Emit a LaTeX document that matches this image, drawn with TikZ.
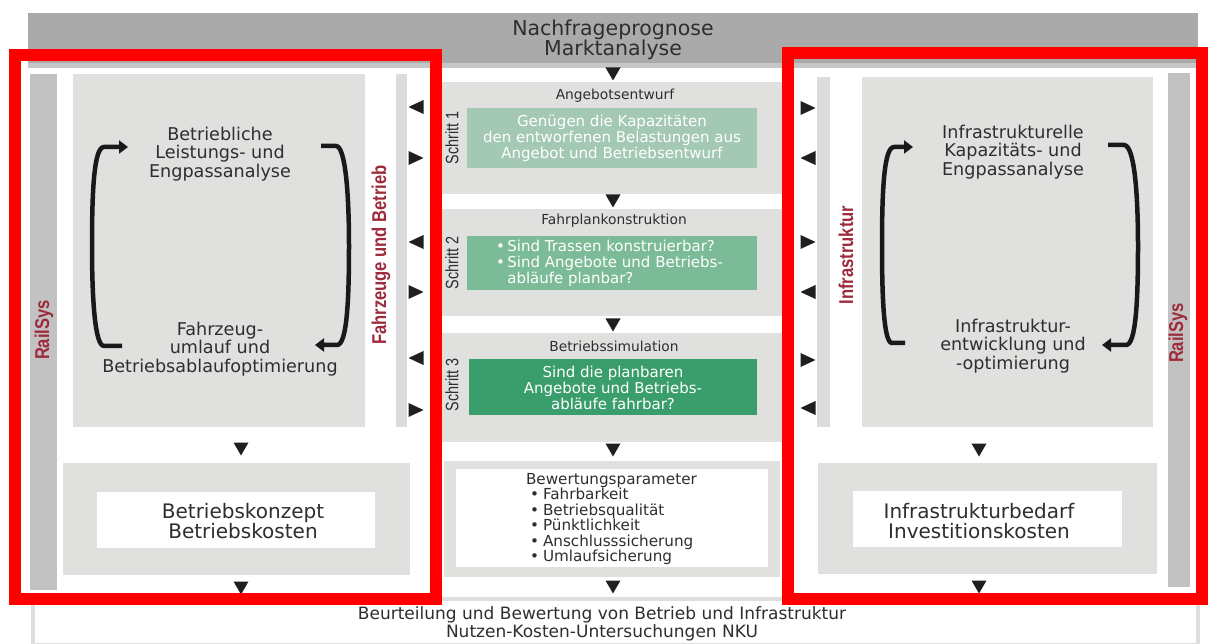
\documentclass[tikz,border=0pt]{standalone}
\usepackage{graphicx}
\usepackage{fontspec}
\setmainfont{DejaVu Sans}
\newfontfamily\narrowfont{Liberation Sans}
\usetikzlibrary{arrows.meta}
\definecolor{topgrey}{HTML}{AAAAAA}
\definecolor{topgreyb}{HTML}{C6C6C6}
\definecolor{boxgrey}{HTML}{E0E0DE}
\definecolor{railgrey}{HTML}{C2C2C2}
\definecolor{stripgrey}{HTML}{DCDCDC}
\definecolor{frgrey}{HTML}{DEDEDE}
\definecolor{gA}{HTML}{A3C8B4}
\definecolor{gB}{HTML}{7CBB97}
\definecolor{gC}{HTML}{3A9E6C}
\definecolor{rtext}{HTML}{9E2B3B}
\definecolor{txt}{HTML}{2E2E2E}
\definecolor{redframe}{HTML}{FF0000}
\newcommand\pbox[6]{\node[blk=#2, anchor=north west, minimum width={(#5-#3)*1pt}, minimum height={(#6-#4)*1pt}] (#1) at (#3,#4) {};}
\tikzset{
  blk/.style={inner sep=0pt, outer sep=0pt, fill=#1, draw=none},
  tx/.style={inner sep=0pt, outer sep=0pt, text=txt, align=center},
  ttl/.style={tx, font=\fontsize{20.5}{20}\selectfont},
  bigt/.style={tx, font=\fontsize{17.6}{18.5}\selectfont},
  kost/.style={tx, font=\fontsize{20}{20.5}\selectfont},
  stept/.style={tx, font=\fontsize{13.8}{14}\selectfont},
  grt/.style={tx, text=white, font=\fontsize{15}{16}\selectfont},
  bewt/.style={tx, align=left, font=\fontsize{15.2}{15.5}\selectfont},
  bott/.style={tx, font=\fontsize{17}{15.5}\selectfont},
  vlab/.style={inner sep=0pt, rotate=90, text=rtext, font={\narrowfont\fontsize{20}{20}\selectfont\bfseries}},
  slab/.style={inner sep=0pt, rotate=90, text=txt, font={\narrowfont\fontsize{18}{18}\selectfont}},
  cyc/.style={line width=4.5pt, draw=black!90, -{Triangle[length=9pt,width=13pt]}, line join=round},
  redbox/.style={draw=redframe, line width=12pt},
  tdn/.pic={\fill[black!88] (-7.5,-6.5)--(7.5,-6.5)--(0,6.5)--cycle;},
  tlt/.pic={\fill[black!88] (7.5,-7)--(7.5,7)--(-7.5,0)--cycle;},
  trt/.pic={\fill[black!88] (-7.5,-7)--(-7.5,7)--(7.5,0)--cycle;}
}
\begin{document}
\begin{tikzpicture}[x=1pt,y=-1pt]
\useasboundingbox (0,0) rectangle (1208,644);
\fill[white] (0,0) rectangle (1208,644);
% top bar
\pbox{topb}{topgreyb}{28}{13}{1198}{68}
\pbox{top}{topgrey}{28}{13}{1198}{63}
\node[ttl] (toptext) at (613,40) {Nachfrageprognose\\Marktanalyse};
% bottom frame
\node[draw=frgrey, line width=4pt, fill=white, inner sep=0pt, anchor=north west, minimum width=1165pt, minimum height=46pt] (bot) at (31,597) {};
\node[bott] (bottext) at (602,624) {Beurteilung und Bewertung von Betrieb und Infrastruktur\\Nutzen-Kosten-Untersuchungen NKU};
% left column
\pbox{railL}{railgrey}{30}{74}{57}{590}
\pbox{bigL}{boxgrey}{73}{74}{365}{427}
\pbox{stripL}{stripgrey}{396}{74}{407}{427}
\pbox{konzO}{boxgrey}{63}{463}{410}{575}
\pbox{konzI}{white}{97}{492}{375}{548}
\node[kost] (konz) at (243,521) {Betriebskonzept\\Betriebskosten};
\node[bigt] (lstop) at (220,154) {Betriebliche\\Leistungs- und\\Engpassanalyse};
\node[bigt] (lsbot) at (220,349) {Fahrzeug-\\umlauf und\\Betriebsablaufoptimierung};
\node[vlab] (railLt) at (44,330) {\scalebox{0.83}[1]{RailSys}};
\node[vlab] (fzb) at (381,255) {\scalebox{0.83}[1]{Fahrzeuge und Betrieb}};
% middle column
\pbox{s1}{boxgrey}{442}{82}{782}{194}
\pbox{g1}{gA}{467}{108}{757}{168}
\pbox{s2}{boxgrey}{442}{209}{782}{316}
\pbox{g2}{gB}{467}{236}{757}{290}
\pbox{s3}{boxgrey}{442}{333}{782}{442}
\pbox{g3}{gC}{469}{359}{757}{415}
\pbox{bewO}{boxgrey}{444}{461}{780}{577}
\pbox{bewI}{white}{456}{469}{768}{567}
\node[stept] (h1) at (615,96) {Angebotsentwurf};
\node[stept] (h2) at (614,221) {Fahrplankonstruktion};
\node[stept] (h3) at (614,346) {Betriebssimulation};
\node[grt] (t1) at (612,138) {Genügen die Kapazitäten\\den entworfenen Belastungen aus\\Angebot und Betriebsentwurf};
\node[grt, align=left, anchor=west] (t2) at (496,263) {•\,Sind Trassen konstruierbar?\\•\,Sind Angebote und Betriebs-\\\phantom{•\,}abläufe planbar?};
\node[grt] (t3) at (613,388) {Sind die planbaren\\Angebote und Betriebs-\\abläufe fahrbar?};
\node[slab] (sch1) at (452,138) {\scalebox{0.8}[1]{Schritt 1}};
\node[slab] (sch2) at (452,263) {\scalebox{0.8}[1]{Schritt 2}};
\node[slab] (sch3) at (452,385) {\scalebox{0.8}[1]{Schritt 3}};
\node[bewt, anchor=north west] (bew) at (526,473) {Bewertungsparameter\\
\hspace*{4pt}\makebox[13pt][l]{•}Fahrbarkeit\\
\hspace*{4pt}\makebox[13pt][l]{•}Betriebsqualität\\
\hspace*{4pt}\makebox[13pt][l]{•}Pünktlichkeit\\
\hspace*{4pt}\makebox[13pt][l]{•}Anschlusssicherung\\
\hspace*{4pt}\makebox[13pt][l]{•}Umlaufsicherung};
% right column
\pbox{stripR}{stripgrey}{817}{77}{830}{427}
\pbox{bigR}{boxgrey}{862}{77}{1153}{427}
\pbox{railR}{railgrey}{1168}{73}{1190}{587}
\pbox{bedO}{boxgrey}{818}{463}{1157}{574}
\pbox{bedI}{white}{853}{491}{1122}{547}
\node[kost] (bed) at (979,521) {Infrastrukturbedarf\\Investitionskosten};
\node[bigt] (rstop) at (1013,152) {Infrastrukturelle\\Kapazitäts- und\\Engpassanalyse};
\node[bigt] (rsbot) at (1013,346) {Infrastruktur-\\entwicklung und\\-optimierung};
\node[vlab] (infr) at (846,255) {\scalebox{0.83}[1]{Infrastruktur}};
\node[vlab] (railRt) at (1178,333) {\scalebox{0.83}[1]{RailSys}};
% cycle arrows
\coordinate (la0) at (122,346); \coordinate (la1) at (128,147);
\coordinate (lb0) at (321,146); \coordinate (lb1) at (315,345);
\coordinate (ra0) at (905,343); \coordinate (ra1) at (913,147);
\coordinate (rb0) at (1108,145); \coordinate (rb1) at (1102,345);
\draw[cyc] (la0) -- (104,346) .. controls (95,346) and (92,300) .. (92,246) .. controls (92,190) and (94,147) .. (104,147) -- (la1);
\draw[cyc] (lb0) -- (336,146) .. controls (345,146) and (349,190) .. (349,246) .. controls (349,300) and (347,345) .. (337,345) -- (lb1);
\draw[cyc] (ra0) -- (892,343) .. controls (884,343) and (882,300) .. (882,246) .. controls (882,190) and (884,147) .. (894,147) -- (ra1);
\draw[cyc] (rb0) -- (1124,145) .. controls (1134,145) and (1138,190) .. (1138,246) .. controls (1138,300) and (1136,345) .. (1126,345) -- (rb1);
% flow triangles
\pic at (613,74) {tdn};
\pic at (613,201) {tdn};
\pic at (613,325) {tdn};
\pic at (613,450) {tdn};
\pic at (613,587) {tdn};
\pic at (241,449) {tdn};
\pic at (241,588) {tdn};
\pic at (979,450) {tdn};
\pic at (979,587) {tdn};
\pic at (416,107) {tlt};
\pic at (416,158) {trt};
\pic at (416,242) {tlt};
\pic at (416,292) {trt};
\pic at (416,358) {tlt};
\pic at (416,410) {trt};
\pic at (808,108) {trt};
\pic at (808,158) {tlt};
\pic at (808,242) {trt};
\pic at (808,292) {tlt};
\pic at (808,360) {trt};
\pic at (808,408) {tlt};
% red frames
\draw[redbox] (15,55) rectangle (436,599);
\draw[redbox] (788,53) rectangle (1202,599);
\end{tikzpicture}
\end{document}
